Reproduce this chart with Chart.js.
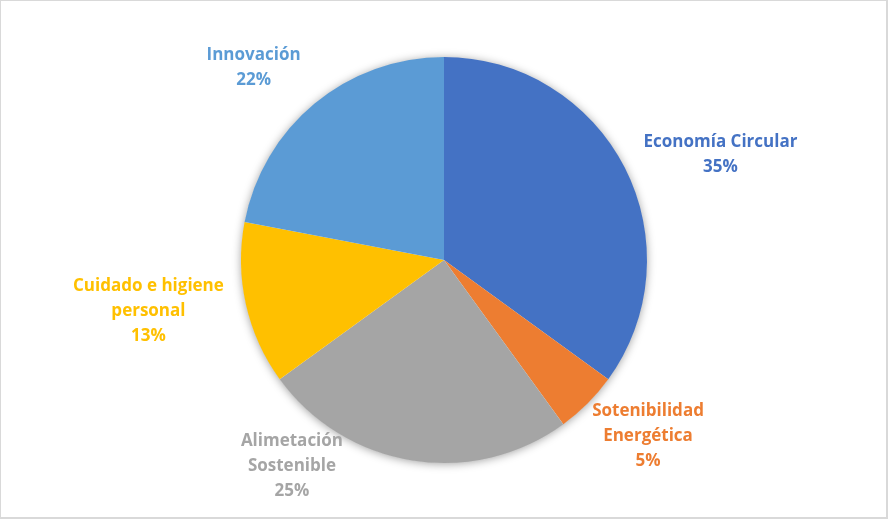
<!DOCTYPE html>
<html>
<head>
<meta charset="utf-8">
<script src="https://cdn.jsdelivr.net/npm/chart.js@4"></script>
<style>
  html, body { margin: 0; padding: 0; background: #fff; }
  #wrap { position: relative; width: 888px; height: 519px; }
  #frame { position: absolute; left: 0; top: 0; width: 888px; height: 519px; box-sizing: border-box;
           border: 1px solid #d9d9d9; border-right-width: 2px; border-bottom-width: 2px; pointer-events: none; }
  canvas { position: absolute; left: 0; top: 0; }
</style>
</head>
<body>
<div id="wrap">
  <canvas id="c" width="888" height="519"></canvas>
  <div id="frame"></div>
</div>
<script>
const categories = ['Economía Circular', 'Sotenibilidad Energética', 'Alimetación Sostenible', 'Cuidado e higiene personal', 'Innovación'];
const values = [35, 5, 25, 13, 22];
const labelLines = [
  ['Economía Circular'],
  ['Sotenibilidad', 'Energética'],
  ['Alimetación', 'Sostenible'],
  ['Cuidado e higiene', 'personal'],
  ['Innovación']
];
const colors = ['#4472C4', '#ED7D31', '#A5A5A5', '#FFC000', '#5B9BD5'];
// label anchor as multiple of radius relative to pie center
const labelAnchors = [[1.362, -0.530], [1.005, 0.860], [-0.749, 1.007], [-1.456, 0.244], [-0.938, -0.956]];

const shadowPlugin = {
  id: 'pieShadow',
  beforeDatasetsDraw(chart) {
    const arc = chart.getDatasetMeta(0).data[0];
    if (!arc) return;
    const ctx = chart.ctx;
    ctx.save();
    ctx.shadowColor = 'rgba(0,0,0,0.4)';
    ctx.shadowBlur = 10;
    ctx.shadowOffsetX = 0;
    ctx.shadowOffsetY = 1;
    ctx.fillStyle = '#ffffff';
    ctx.beginPath();
    ctx.arc(arc.x, arc.y, arc.outerRadius - 0.5, 0, Math.PI * 2);
    ctx.fill();
    ctx.restore();
  }
};

const labelPlugin = {
  id: 'pieLabels',
  afterDatasetsDraw(chart) {
    const meta = chart.getDatasetMeta(0);
    const ctx = chart.ctx;
    const total = values.reduce((a, b) => a + b, 0);
    ctx.save();
    ctx.font = 'bold 17px "Open Sans", Lato, sans-serif';
    ctx.textAlign = 'center';
    ctx.textBaseline = 'middle';
    meta.data.forEach((arc, i) => {
      const r = arc.outerRadius;
      const cx = arc.x + labelAnchors[i][0] * r;
      const cy = arc.y + labelAnchors[i][1] * r + 2;
      const lines = labelLines[i].concat([Math.round(values[i] / total * 100) + '%']);
      const lh = 25;
      const start = cy - (lines.length - 1) * lh / 2;
      ctx.fillStyle = colors[i];
      lines.forEach((t, k) => ctx.fillText(t, cx, start + k * lh));
    });
    ctx.restore();
  }
};

new Chart(document.getElementById('c'), {
  type: 'pie',
  data: {
    labels: categories,
    datasets: [{
      data: values,
      backgroundColor: colors,
      borderWidth: 0
    }]
  },
  options: {
    responsive: false,
    animation: false,
    layout: { padding: { top: 57, bottom: 56, left: 0, right: 0 } },
    plugins: {
      legend: { display: false },
      tooltip: { enabled: false }
    }
  },
  plugins: [shadowPlugin, labelPlugin]
});
</script>
</body>
</html>
